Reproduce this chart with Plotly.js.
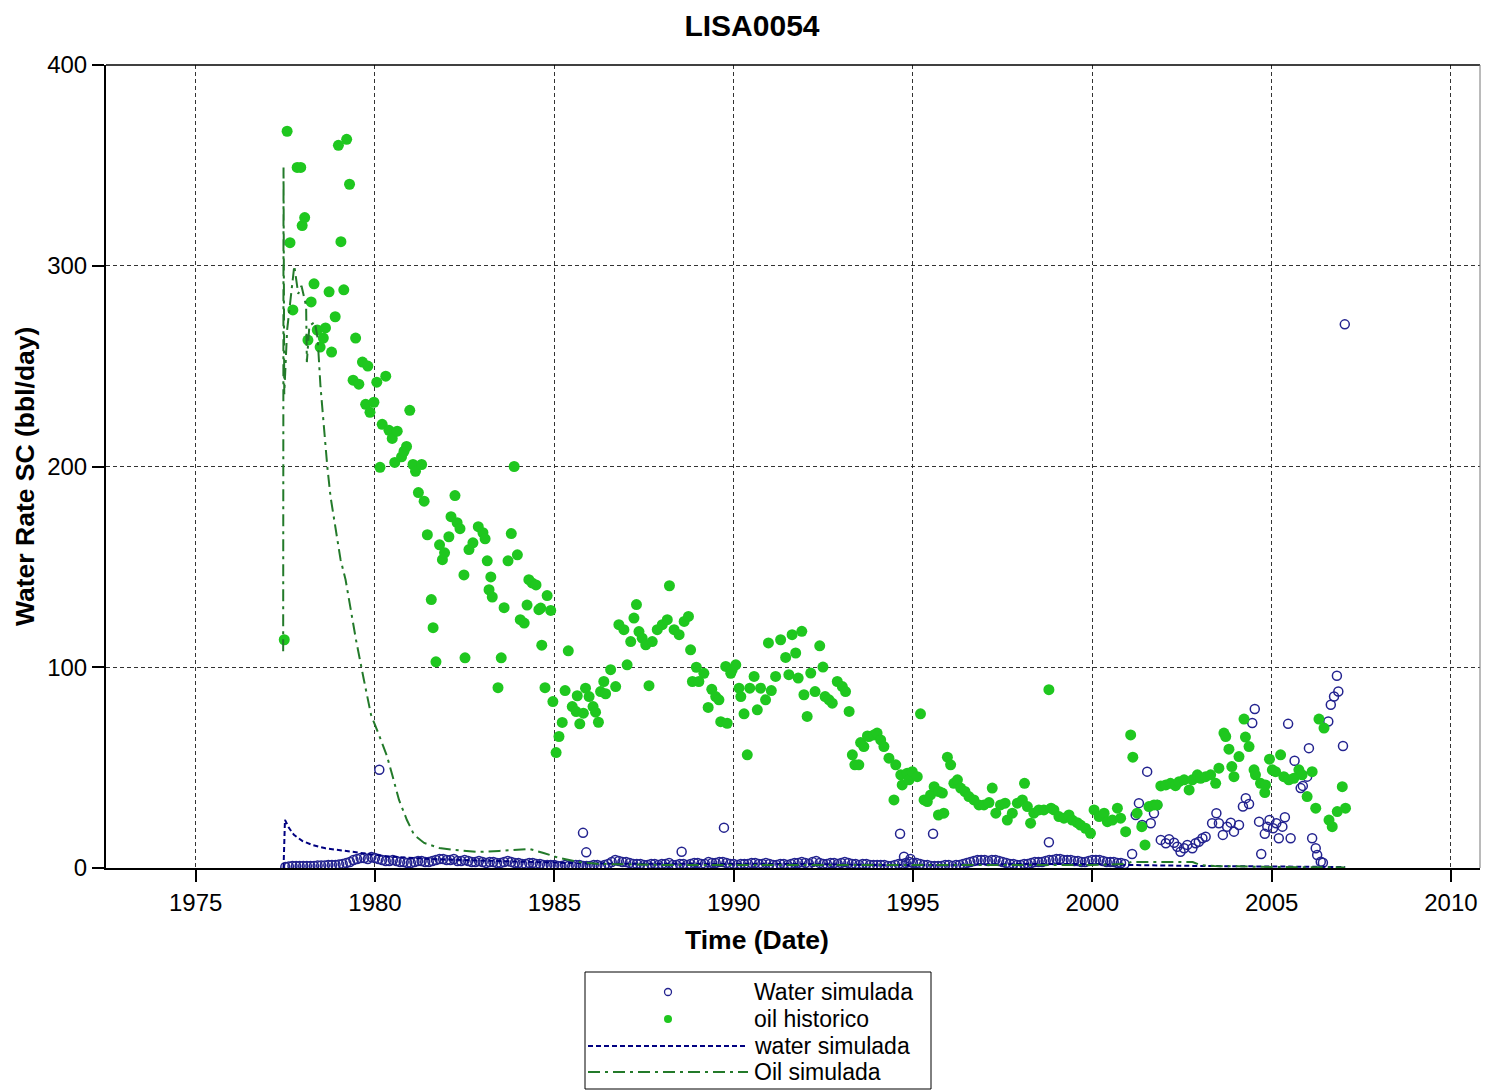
<!DOCTYPE html>
<html><head><meta charset="utf-8">
<script src="https://cdn.plot.ly/plotly-3.0.1.min.js"></script>
<style>html,body{margin:0;padding:0;background:#fff}#chart{width:1486px;height:1091px}</style>
</head><body><div id="chart"></div>
<script>
// ---------------- DATA ----------------
const chartTitle = "LISA0054";
const xTitle = "Time (Date)";
const yTitle = "Water Rate SC (bbl/day)";
const xTickVals = [1975, 1980, 1985, 1990, 1995, 2000, 2005, 2010];
const yTickVals = [0, 100, 200, 300, 400];
const seriesNames = ["Water simulada", "oil historico", "water simulada", "Oil simulada"];

// oil historico (filled green points)
const oilHistYears = [
1977.47,1977.55,1977.63,1977.71,1977.83,1977.93,1977.97,1978.04,1978.13,1978.22,1978.30,1978.39,1978.47,1978.56,1978.62,1978.72,1978.79,1978.89,1978.98,1979.05,
1979.13,1979.21,1979.29,1979.39,1979.46,1979.55,1979.65,1979.74,1979.80,1979.86,1979.97,1980.05,1980.14,1980.20,1980.30,1980.39,1980.48,1980.55,1980.62,1980.74,
1980.81,1980.88,1980.97,1981.06,1981.13,1981.21,1981.30,1981.37,1981.46,1981.57,1981.62,1981.70,1981.80,1981.88,1981.94,1982.06,1982.12,1982.23,1982.29,1982.37,
1982.48,1982.51,1982.62,1982.73,1982.88,1983.01,1983.07,1983.13,1983.18,1983.23,1983.27,1983.43,1983.52,1983.60,1983.71,1983.80,1983.88,1983.97,1984.05,1984.16,
1984.24,1984.29,1984.38,1984.49,1984.57,1984.62,1984.65,1984.74,1984.80,1984.90,1984.96,1985.05,1985.13,1985.22,1985.30,1985.39,1985.50,1985.61,1985.64,1985.71,
1985.81,1985.87,1985.97,1986.08,1986.15,1986.23,1986.29,1986.38,1986.43,1986.57,1986.71,1986.80,1986.94,1987.03,1987.13,1987.22,1987.29,1987.36,1987.45,1987.55,
1987.64,1987.73,1987.87,1988.01,1988.15,1988.21,1988.34,1988.48,1988.62,1988.74,1988.80,1988.85,1988.96,1989.03,1989.17,1989.29,1989.39,1989.50,1989.59,1989.64,
1989.78,1989.82,1989.92,1989.96,1990.06,1990.15,1990.20,1990.29,1990.38,1990.45,1990.57,1990.66,1990.75,1990.89,1990.97,1991.05,1991.17,1991.31,1991.45,1991.54,
1991.63,1991.73,1991.80,1991.90,1991.96,1992.05,1992.15,1992.27,1992.40,1992.49,1992.55,1992.66,1992.75,1992.89,1993.03,1993.12,1993.22,1993.31,1993.38,1993.49,
1993.54,1993.63,1993.73,1993.77,1993.91,1994.00,1994.10,1994.19,1994.33,1994.47,1994.52,1994.66,1994.70,1994.84,1994.89,1994.98,1995.12,1995.21,1995.31,1995.40,
1995.49,1995.59,1995.71,1995.72,1995.82,1995.86,1995.96,1996.05,1996.14,1996.24,1996.33,1996.45,1996.56,1996.70,1996.84,1996.98,1997.12,1997.21,1997.31,1997.44,
1997.57,1997.63,1997.77,1997.91,1998.05,1998.11,1998.19,1998.28,1998.37,1998.51,1998.65,1998.79,1998.85,1998.93,1999.07,1999.21,1999.35,1999.44,1999.58,1999.67,
1999.81,1999.95,2000.05,2000.19,2000.33,2000.42,2000.56,2000.70,2000.79,2000.93,2001.07,2001.13,2001.25,2001.38,2001.47,2001.58,2001.72,2001.81,2001.91,2002.05,
2002.18,2002.32,2002.42,2002.56,2002.70,2002.79,2002.93,2003.02,2003.16,2003.30,2003.44,2003.53,2003.67,2003.72,2003.81,2003.89,2003.95,2004.09,2004.23,2004.27,
2004.37,2004.51,2004.55,2004.69,2004.81,2004.83,2004.94,2005.02,2005.11,2005.25,2005.34,2005.48,2005.62,2005.76,2005.85,2005.99,2006.13,2006.23,2006.32,2006.46,
2006.60,2006.69,2006.83,2006.97,2007.06];
const oilHistRates = [
113.7,367,311.5,278,349,349,320,324,263,282,291,268,259.5,264,269,287,257,274.6,360,312,
288,363,340.6,243,264,241,252,231,250,227,232,242,199.6,221,245,218,214,202,217.6,204.8,
207.6,210,228,201,197.6,187,201,182.7,166,133.7,119.7,102.7,161,153.6,157,165,175,185.5,172,169,
146,104.7,158.6,162,170,167,164,153,138.6,145,135,89.8,104.7,129.7,153,166.6,200,156,123.7,122,
131,143.6,142,141,128.7,129.5,111,89.8,135.7,128.3,82.9,57.5,65.5,72.5,88.4,108.2,80.4,77.9,85.8,71.8,
77.1,89.6,85.4,80.4,77.6,72.6,87.9,92.9,86.8,98.8,90.4,121.2,118.7,101.2,112.8,124.5,131.2,117.8,114.5,111.2,
90.8,112.8,118.7,121.2,123.7,140.6,118.7,116.2,122.8,125.3,108.7,92.9,100.0,92.9,97.0,80.0,89.0,85.4,83.8,72.9,
100.4,72.1,97.0,98.8,101.2,89.6,85.4,76.8,56.4,89.6,95.4,78.8,89.6,83.8,112.1,88.4,95.4,113.7,104.9,96.3,
116.2,107.1,94.6,117.9,86.3,75.5,97.1,87.9,110.7,100.1,85.4,83.8,82.1,92.9,90.4,87.9,78.0,56.4,51.4,51.4,
62.5,60.5,65.8,65.5,66.3,67.2,63.8,60.5,54.7,33.9,51.4,46.4,41.4,47.2,43.9,48.0,45.5,76.8,33.9,33.1,
36.4,40.5,26.4,38.1,37.3,27.3,55.2,51.4,42.2,43.9,39.8,38.1,35.6,33.9,31.4,31.4,32.6,39.8,27.3,31.4,
32.3,23.9,27.3,32.3,33.9,42.2,30.6,22.3,27.3,28.9,28.9,88.8,29.8,28.9,25.6,24.8,26.4,23.9,22.6,21.4,
19.8,17.3,28.9,25.6,27.3,23.1,23.9,29.8,24.8,18.1,66.3,55.2,27.3,20.6,11.5,30.6,31.4,31.4,40.9,41.4,
42.2,41.0,43.0,43.9,38.9,43.9,46.4,44.7,45.5,46.4,42.2,49.7,67.2,65.5,59.2,50.5,45.5,55.5,74.2,65.2,
60.5,48.9,46.4,42.2,37.6,41.4,54.2,48.9,48.0,56.4,45.5,43.9,44.7,48.9,46.4,35.6,48.0,29.8,74.2,69.7,
23.9,20.6,28.1,40.5,29.8];

// Water simulada (open circles)
const waterPtsYears = [
1977.5,1977.7,1977.9,1978.1,1978.3,1978.5,1978.7,1978.9,1979.1,1979.3,1979.5,1979.7,1979.9,1980.1,1980.3,1980.5,1980.7,1980.9,1981.1,1981.3,
1981.5,1981.7,1981.9,1982.1,1982.3,1982.5,1982.7,1982.9,1983.1,1983.3,1983.5,1983.7,1983.9,1984.1,1984.3,1984.5,1984.7,1984.9,1985.1,1985.3,
1985.5,1985.7,1985.9,1986.1,1986.3,1986.5,1986.7,1986.9,1987.1,1987.3,1987.5,1987.7,1987.9,1988.1,1988.3,1988.5,1988.7,1988.9,1989.1,1989.3,
1989.5,1989.7,1989.9,1990.1,1990.3,1990.5,1990.7,1990.9,1991.1,1991.3,1991.5,1991.7,1991.9,1992.1,1992.3,1992.5,1992.7,1992.9,1993.1,1993.3,
1993.5,1993.7,1993.9,1994.1,1994.3,1994.5,1994.7,1994.9,1995.1,1995.3,1995.5,1995.7,1995.9,1996.1,1996.3,1996.5,1996.7,1996.9,1997.1,1997.3,
1997.5,1997.7,1997.9,1998.1,1998.3,1998.5,1998.7,1998.9,1999.1,1999.3,1999.5,1999.7,1999.9,2000.1,2000.3,2000.5,2000.7,2000.9,
1977.6,1977.8,1978.0,1978.2,1978.4,1978.6,1978.8,1979.0,1979.2,1979.4,1979.6,1979.8,1980.0,1980.2,1980.4,1980.6,1980.8,1981.0,1981.2,1981.4,
1981.6,1981.8,1982.0,1982.2,1982.4,1982.6,1982.8,1983.0,1983.2,1983.4,1983.6,1983.8,1984.0,1984.2,1984.4,1984.6,1984.8,1985.0,1985.2,1985.4,
1985.6,1985.8,1986.0,1986.2,1986.4,1986.6,1986.8,1987.0,1987.2,1987.4,1987.6,1987.8,1988.0,1988.2,1988.4,1988.6,1988.8,1989.0,1989.2,1989.4,
1989.6,1989.8,1990.0,1990.2,1990.4,1990.6,1990.8,1991.0,1991.2,1991.4,1991.6,1991.8,1992.0,1992.2,1992.4,1992.6,1992.8,1993.0,1993.2,1993.4,
1993.6,1993.8,1994.0,1994.2,1994.4,1994.6,1994.8,1995.0,1995.2,1995.4,1995.6,1995.8,1996.0,1996.2,1996.4,1996.6,1996.8,1997.0,1997.2,1997.4,
1997.6,1997.8,1998.0,1998.2,1998.4,1998.6,1998.8,1999.0,1999.2,1999.4,1999.6,1999.8,2000.0,2000.2,2000.4,2000.6,2000.8,
1980.12,1985.80,1985.89,1988.55,1989.73,1994.64,1994.75,1994.93,1995.56,1998.79,
2001.11,2001.21,2001.30,2001.39,2001.53,2001.63,2001.72,2001.81,2001.91,2002.05,2002.14,2002.28,2002.37,2002.46,2002.56,2002.65,2002.79,2002.88,2002.97,2003.07,
2003.16,2003.34,2003.46,2003.53,2003.64,2003.76,2003.86,2003.95,2004.09,2004.20,2004.28,2004.37,2004.46,2004.53,2004.65,2004.71,2004.81,2004.88,2004.94,2005.04,
2005.13,2005.20,2005.30,2005.37,2005.46,2005.53,2005.64,2005.81,2005.87,2005.99,2006.04,2006.13,2006.23,2006.27,2006.37,2006.43,2006.58,2006.65,2006.74,2006.82,
2006.86,2006.99,2007.04];
const waterPtsRates = [
0.5,1,1,1,1,1.2,1.5,1.5,2,3,4.5,5,5.5,4.5,3.5,4,3,2.5,3,3.5,
3,4,4.5,4,3.5,4,3,3.5,2.5,3,2.5,3.5,2.5,2,2.5,2,1.5,1.5,1,1.5,
1,1.5,1,1.5,1,2,4,3,2.5,2,1.5,2,1.5,2,1.5,2,1.5,2.5,2,3,
2.5,3,2,1.5,2,2.5,2,2.5,1.5,2,1.5,2.5,3,2,3.5,2,2.5,2,3,2,
1.5,2,1.5,1.5,1,1.5,2,3,2.5,1.5,1,1,1.5,1,1.5,2.5,3.5,4,3.5,4,
3,2,1.5,2,2.5,3,3.5,4,4.5,4,3.5,3,3.5,4,3.5,3,2.5,2,
0.8,1,1,1,1.2,1.3,1.5,1.8,2.5,4,5,4.5,5,4,3.5,3.5,3,2.5,3.5,3,
3.5,4.5,4,4.5,3.5,3.5,3,3,3,2.5,3,3,2.5,2,2.5,2,1.5,1.5,1,1,
1.5,1,1,1.5,1.5,3,3.5,3,2,2,1.5,2,2,2.5,1.5,2,2,2.5,2,2.5,
3,2.5,2,2,2,2.5,2,2,1.5,2,2,2.5,2.5,3,2.5,2,2.5,2.5,2.5,2,
2,1.5,1.5,1.5,1,2,2.5,2.5,2,1.5,1,1,1.5,1.5,2,3,4,4,4,3.5,
2.5,2,1.5,2,3,3,4,4.5,4,4,3.5,3,4,4,3,3,2.5,
48.9,17.5,7.8,8.1,20.1,17.1,5.6,4.5,17.1,12.8,
7.0,26.4,32.3,21.4,48.0,22.3,27.3,31.4,14.0,12.3,14.3,12.6,10.6,8.1,9.8,11.5,9.8,12.3,13.1,14.8,
15.6,22.3,27.3,22.3,16.5,20.6,22.6,18.1,21.4,30.6,34.8,31.9,72.2,79.2,23.1,7.0,17.0,20.6,23.9,19.8,
22.3,14.8,20.6,25.3,71.8,14.8,53.4,39.8,40.9,45.5,59.7,14.8,9.8,6.5,3.1,2.6,73.0,81.3,85.4,95.8,
87.9,60.8,270.8];

// water simulada (dashed line)
const waterLineYears = [1977.45,1977.49,1977.60,1977.74,1977.97,1978.25,1978.62,1978.99,1979.27,1979.50,1979.83,1980.20,1980.60,1981.00,1981.50,1982.00,1983.00,1984.00,1985.00,1986.00,1988.00,1990.00,1992.00,1994.00,1996.00,1998.00,2000.00,2001.00,2003.00,2005.00,2007.05];
const waterLineRates = [0,24,20,16.5,13.5,11.5,9.8,9,8.1,7.6,7,6,5.5,5,4.5,4.2,3.8,3.2,2.7,2.2,2,2,2,1.5,1.5,2,2,1.5,1,0.8,0.5];

// Oil simulada (dash-dot line)
const oilSimYears = [1977.44,1977.45,1977.47,1977.55,1977.75,1977.86,1977.95,1978.08,1978.10,1978.17,1978.32,1978.40,1978.48,1978.58,1978.67,1978.76,1978.90,1979.04,1979.18,1979.27,
1979.47,1979.69,1979.89,1980.11,1980.33,1980.48,1980.67,1980.89,1981.09,1981.37,1981.79,1982.21,1982.90,1983.46,1983.88,1984.30,1984.70,1985.13,1985.69,1986.25,
1988.00,1990.00,1992.00,1994.00,1996.00,1998.00,2000.00,2000.90,2001.10,2002.80,2003.00,2003.40,2005.00,2007.05];
const oilSimRates = [108,349,236,268,300,286,290,280,252,270,272,264,240,218,200,185,168.6,153.6,143.6,133.7,
113.7,93.8,76.3,66.3,56,46.4,33.9,23.9,16.5,12.5,10,9,8,8.5,9,9.5,7.5,5,3,2,
1.5,1.5,1.5,1.5,1.5,1.5,1.5,2,3,3,1.5,1,0.5,0.3];

// ---------------- LAYOUT ----------------
const W = 1486, H = 1091;
const M = {l: 106, r: 6, t: 65, b: 223};
const PW = W - M.l - M.r, PH = H - M.t - M.b;
const px = v => (v - M.l) / PW;          // page px -> paper x
const py = v => (H - M.b - v) / PH;      // page px -> paper y
const FONT = "Liberation Sans, Arial, Helvetica, sans-serif";

const cWaterPt = "#23238f", cOilPt = "#1fc71f", cWaterLine = "#000080", cOilLine = "#237a2a";
const oilDash = "12px,5px,3px,5px", waterDash = "5px,3px";

const traces = [
  {type: "scatter", mode: "markers", name: seriesNames[0], x: waterPtsYears, y: waterPtsRates,
   marker: {symbol: "circle-open", size: 9, color: cWaterPt, line: {width: 1.5, color: cWaterPt}}},
  {type: "scatter", mode: "markers", name: seriesNames[1], x: oilHistYears, y: oilHistRates,
   marker: {symbol: "circle", size: 11, color: cOilPt}},
  {type: "scatter", mode: "lines", name: seriesNames[2], x: waterLineYears, y: waterLineRates,
   line: {color: cWaterLine, width: 2, dash: waterDash}},
  {type: "scatter", mode: "lines", name: seriesNames[3], x: oilSimYears, y: oilSimRates,
   line: {color: cOilLine, width: 2, dash: oilDash}}
];

// manual legend (box, samples, text)
const legRows = [992, 1019, 1046, 1072];
const legShapes = [
  {type: "rect", xref: "paper", yref: "paper", x0: px(585), x1: px(931), y0: py(972), y1: py(1089),
   line: {color: "#000", width: 1}, fillcolor: "#fff", layer: "above"},
  {type: "circle", xref: "paper", yref: "paper", xsizemode: "pixel", ysizemode: "pixel",
   xanchor: px(668), yanchor: py(legRows[0]), x0: -3.5, x1: 3.5, y0: -3.5, y1: 3.5,
   line: {color: cWaterPt, width: 1.3}, fillcolor: "#fff", layer: "above"},
  {type: "circle", xref: "paper", yref: "paper", xsizemode: "pixel", ysizemode: "pixel",
   xanchor: px(668), yanchor: py(legRows[1]), x0: -4, x1: 4, y0: -4, y1: 4,
   line: {color: cOilPt, width: 0}, fillcolor: cOilPt, layer: "above"},
  {type: "line", xref: "paper", yref: "paper", x0: px(588), x1: px(748), y0: py(legRows[2]), y1: py(legRows[2]),
   line: {color: cWaterLine, width: 2, dash: waterDash}, layer: "above"},
  {type: "line", xref: "paper", yref: "paper", x0: px(588), x1: px(748), y0: py(legRows[3]), y1: py(legRows[3]),
   line: {color: cOilLine, width: 2, dash: oilDash}, layer: "above"},
  // frame top / right
  {type: "line", xref: "paper", yref: "paper", x0: 0, x1: 1, y0: 1, y1: 1, line: {color: "#000", width: 1.5}, layer: "above"},
  {type: "line", xref: "paper", yref: "paper", x0: 1, x1: 1, y0: 0, y1: 1, line: {color: "#777", width: 1}, layer: "above"}
];
const legAnn = seriesNames.map((n, i) => ({
  xref: "paper", yref: "paper", x: px(752), y: py(legRows[i]), xanchor: "left", yanchor: "middle",
  text: n, showarrow: false, font: {family: FONT, size: 23, color: "#000"}
}));
const titleAnn = [
  {xref: "paper", yref: "paper", x: px(757), y: py(940), xanchor: "center", yanchor: "middle",
   text: xTitle, showarrow: false, font: {family: FONT, size: 26.5, weight: "bold", color: "#000"}},
  {xref: "paper", yref: "paper", x: px(25), y: py(477), xanchor: "center", yanchor: "middle", textangle: -90,
   text: yTitle, showarrow: false, font: {family: FONT, size: 26.5, weight: "bold", color: "#000"}}
];

const layout = {
  width: W, height: H, margin: M, paper_bgcolor: "#fff", plot_bgcolor: "#fff",
  showlegend: false,
  font: {family: FONT, color: "#000"},
  title: {text: chartTitle, x: 752 / W, xref: "container", xanchor: "center", y: 1 - 25 / H, yanchor: "middle",
          font: {family: FONT, size: 30, weight: "bold", color: "#000"}},
  xaxis: {range: [1972.5, 2010.81], tickmode: "array", tickvals: xTickVals, ticktext: xTickVals.map(String),
          ticks: "outside", ticklen: 12, tickwidth: 2, tickcolor: "#000",
          showline: true, linecolor: "#000", linewidth: 2,
          showgrid: true, gridcolor: "#333", gridwidth: 1, griddash: "4px,3px", zeroline: false,
          tickfont: {family: FONT, size: 24, color: "#000"}},
  yaxis: {range: [0, 400], tickmode: "array", tickvals: yTickVals, ticktext: yTickVals.map(String),
          ticks: "outside", ticklen: 12, tickwidth: 2, tickcolor: "#000",
          showline: true, linecolor: "#000", linewidth: 2,
          showgrid: true, gridcolor: "#333", gridwidth: 1, griddash: "4px,3px", zeroline: false,
          tickfont: {family: FONT, size: 24, color: "#000"}},
  shapes: legShapes,
  annotations: legAnn.concat(titleAnn)
};

Plotly.newPlot("chart", traces, layout, {displayModeBar: false, staticPlot: true});
</script>
</body></html>
